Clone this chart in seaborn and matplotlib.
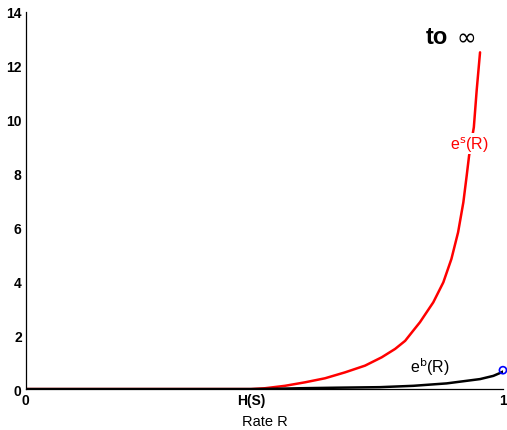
import numpy as np
import pandas as pd
import seaborn as sns
import matplotlib.pyplot as plt

sns.set_style("white")
plt.rcParams['font.family'] = ['Liberation Sans', 'DejaVu Sans']
plt.rcParams['text.color'] = 'black'
plt.rcParams['xtick.color'] = 'black'
plt.rcParams['ytick.color'] = 'black'
plt.rcParams['axes.labelcolor'] = 'black'

H_S = 0.472

# exponent e^s(R): zero below H(S), blowing up as R approaches 1
rate_s = [0.0, 0.472, 0.501, 0.543, 0.585, 0.627, 0.669, 0.711, 0.746, 0.774, 0.795,
          0.812, 0.826, 0.854, 0.875, 0.892, 0.906, 0.917, 0.924, 0.929, 0.939, 0.945, 0.952]
exp_s = [0.0, 0.0, 0.03, 0.12, 0.25, 0.40, 0.62, 0.87, 1.18, 1.49, 1.79,
         2.17, 2.48, 3.22, 3.96, 4.83, 5.82, 6.93, 7.92, 8.66, 9.72, 11.1, 12.5]

# exponent e^b(R)
rate_b = [0.0, 0.472, 0.52, 0.574, 0.65, 0.742, 0.812, 0.882, 0.952, 0.98, 0.997, 1.0]
exp_b = [0.0, 0.0, 0.01, 0.03, 0.05, 0.07, 0.12, 0.21, 0.37, 0.49, 0.62, 0.65]

end_rate = [1.0]
end_val = [0.7]

fig = plt.figure(figsize=(5.07, 4.31), dpi=100)
ax = fig.add_axes([0.051, 0.095, 0.941, 0.875])

df_s = pd.DataFrame({"R": rate_s, "e": exp_s})
df_b = pd.DataFrame({"R": rate_b, "e": exp_b})
sns.lineplot(data=df_s, x="R", y="e", ax=ax, color="#ff0000", lw=1.8, sort=False,
             solid_joinstyle="round")
sns.lineplot(data=df_b, x="R", y="e", ax=ax, color="black", lw=1.8, sort=False,
             solid_joinstyle="round")
sns.scatterplot(x=end_rate, y=end_val, ax=ax, marker="o", s=26,
                facecolors="none", edgecolor="blue", linewidth=1.2, zorder=5, clip_on=False)

ax.set_xlim(0, 1)
ax.set_ylim(0, 14)
ax.set_xticks([0, H_S, 1])
ax.set_xticklabels(["0", "H(S)", "1"], fontweight="bold", fontsize=10)
ax.set_yticks(range(0, 15, 2))
ax.set_yticklabels([str(v) for v in range(0, 15, 2)], fontweight="bold", fontsize=10)
ax.tick_params(direction="in", length=4, width=0.8, pad=3, color="black")
ax.set_xlabel("Rate R", fontsize=10.5, labelpad=5)
ax.set_ylabel("")
sns.despine(ax=ax)
for s in ["left", "bottom"]:
    ax.spines[s].set_color("black")
    ax.spines[s].set_linewidth(0.9)

ax.text(0.93, 9.1, r"e$^{\mathrm{s}}$(R)", color="#ff0000", fontsize=11.5, ha="center", va="center",
        bbox=dict(facecolor="white", edgecolor="none", pad=0.5))
ax.text(0.848, 0.85, r"e$^{\mathrm{b}}$(R)", color="black", fontsize=11.5, ha="center", va="center")
ax.text(0.862, 13.1, "to", fontsize=17, fontweight="bold", ha="center", va="center")
ax.text(0.922, 13.1, "$\\infty$", fontsize=17, ha="center", va="center")

fig.savefig("out.png", dpi=100)
